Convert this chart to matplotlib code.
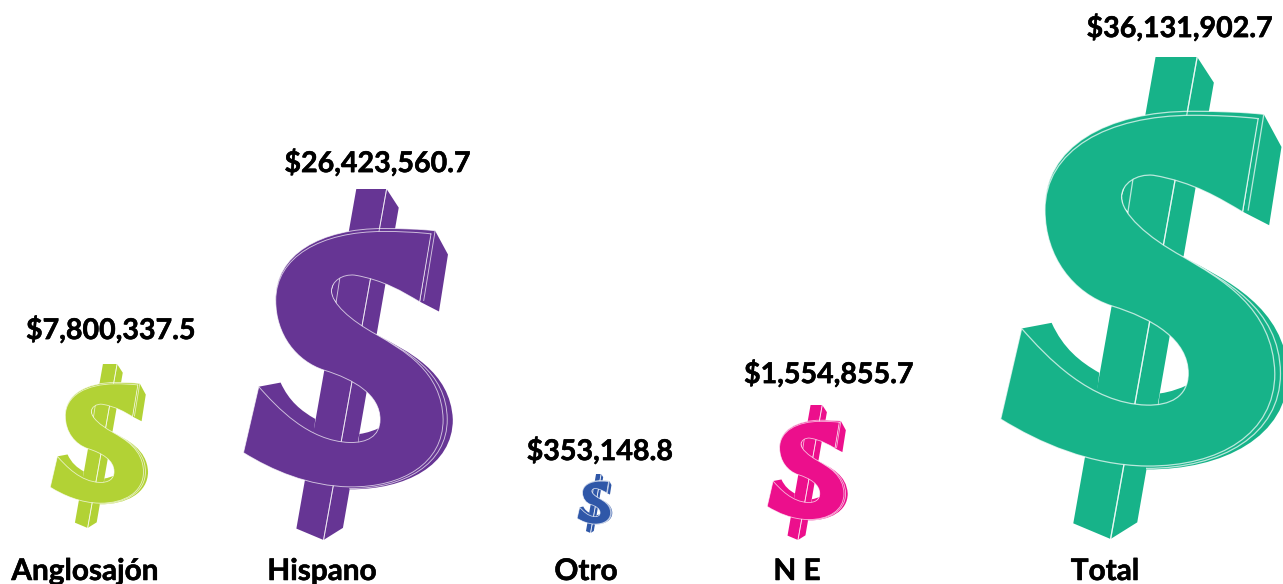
#!/usr/bin/env python3
# -*- coding: utf-8 -*-

import numpy as np
import matplotlib.pyplot as plt
import matplotlib.patheffects as pe
from matplotlib.patches import PathPatch
from matplotlib.path import Path

OUT_FILE = "out.png"
WIDTH, HEIGHT = 1283, 584

CATEGORIES = ["Anglosajón", "Hispano", "Otro", "N E", "Total"]
AMOUNTS = [7800337.5, 26423560.7, 353148.8, 1554855.7, 36131902.7]

# size and place of each dollar sign in pixels
SIGN_HEIGHT = [164, 351, 59, 135, 482]
SIGN_LEFT = [50, 243, 577, 767, 1000]
SIGN_BOTTOM = [528, 540, 533, 540, 539]
COLORS = ["#B2D235", "#663594", "#2F57A8", "#EC0F8C", "#17B389"]

AMOUNT_X = [111, 378, 600, 829, 1180]
AMOUNT_Y = [330, 163, 451, 374, 28]
LABEL_X = [85, 322, 586, 797, 1105]
LABEL_Y = 571

# sign outline: start point, then single points (line) or triples (bezier)
GLYPH_X0, GLYPH_Y1, GLYPH_H = 60, 1497, 1447

BAR = [(527, 50), (652, 50), (702, 127), (472, 1447), (392, 1497), (280, 1450), (527, 50)]
BAR_EDGE = [(652, 50), (392, 1497)]

FACE = [
    (835, 235), (788, 515),
    (720, 475), (640, 425), (520, 405),
    (470, 400), (425, 430), (425, 470),
    (425, 520), (500, 590), (610, 650),
    (720, 715), (880, 800), (885, 1000),
    (885, 1180), (720, 1280), (500, 1278),
    (330, 1275), (180, 1210), (62, 1137),
    (125, 865),
    (200, 950), (330, 1090), (500, 1095),
    (570, 1097), (625, 1070), (625, 1000),
    (625, 900), (520, 835), (395, 797),
    (280, 760), (195, 650), (195, 510),
    (195, 330), (380, 225), (640, 225),
    (700, 225), (780, 228), (835, 235),
]
SIDE_RIGHT = [(835, 235), (852, 222), (905, 320), (868, 555), (790, 515), (835, 235)]
SIDE_LEFT = [
    (125, 865), (215, 848),
    (250, 925), (300, 965), (358, 998),
    (350, 1070),
    (280, 1040), (190, 970), (125, 865),
]
SIDE_COUNTER = [
    (535, 1096), (540, 1060),
    (575, 1055), (600, 1045), (622, 1035),
    (600, 1080), (570, 1098), (535, 1096),
]
SIDE_UPPER = [(425, 470), (440, 420), (520, 400), (500, 570), (430, 500), (425, 470)]
SIDE_BULGE = [
    (610, 650),
    (740, 720), (915, 800), (925, 1000),
    (925, 1190), (730, 1290), (500, 1288),
    (500, 1270), (800, 1000), (610, 650),
]
RIM_TOP = [
    (195, 510),
    (190, 320), (380, 212), (640, 213),
    (720, 213), (790, 215), (852, 222),
    (790, 300), (300, 400), (195, 510),
]
RIM_LINE_TOP = [
    (195, 510),
    (190, 320), (380, 212), (640, 213),
    (720, 213), (790, 215), (852, 222),
    (805, 510),
]
RIM_LINE_BULGE = [
    (610, 650),
    (730, 720), (900, 800), (902, 1000),
    (902, 1185), (725, 1285), (500, 1285),
]
RIM_LINE_INNER = [
    (425, 470),
    (420, 525), (495, 600), (610, 660),
]
RIM_LINE_UPPER = [(459, 418), (443, 522)]

# which point indexes open a bezier in each outline
CURVE_STARTS = {
    id(FACE): {2, 5, 8, 11, 14, 17, 21, 24, 27, 30, 33, 36},
    id(SIDE_LEFT): {2, 6},
    id(SIDE_COUNTER): {2, 5},
    id(SIDE_BULGE): {1, 4},
    id(RIM_TOP): {1, 4},
    id(RIM_LINE_TOP): {1, 4},
    id(RIM_LINE_BULGE): {1, 4},
    id(RIM_LINE_INNER): {1},
}


def build_codes(points):
    starts = CURVE_STARTS.get(id(points), ())
    codes = [Path.MOVETO]
    i = 1
    while i < len(points):
        if i in starts:
            codes += [Path.CURVE4] * 3
            i += 3
        else:
            codes.append(Path.LINETO)
            i += 1
    return codes


def place(points, left, bottom, height):
    scale = height / GLYPH_H
    pts = np.array(points, dtype=float)
    pts[:, 0] = left + (pts[:, 0] - GLYPH_X0) * scale
    pts[:, 1] = bottom + (pts[:, 1] - GLYPH_Y1) * scale
    return pts


def add_shape(ax, points, left, bottom, height, **kwargs):
    path = Path(place(points, left, bottom, height), build_codes(points))
    ax.add_patch(PathPatch(path, **kwargs))


def draw_sign(ax, left, bottom, height, color):
    lw = max(0.6, height / 483 * 0.9)
    light = dict(fc="none", ec="white", lw=lw, alpha=0.7, capstyle="round")

    add_shape(ax, BAR, left, bottom, height, fc=color, ec="none")
    add_shape(ax, BAR_EDGE, left, bottom, height, **light)

    for side in [SIDE_RIGHT, SIDE_LEFT, SIDE_COUNTER, SIDE_UPPER, SIDE_BULGE, RIM_TOP]:
        add_shape(ax, side, left, bottom, height, fc=color, ec="none")

    add_shape(ax, BAR_EDGE, left, bottom, height, **light)
    for line in [RIM_LINE_TOP, RIM_LINE_BULGE, RIM_LINE_INNER, RIM_LINE_UPPER]:
        add_shape(ax, line, left, bottom, height, **light)

    add_shape(ax, FACE, left, bottom, height, fc=color, ec="none")
    add_shape(ax, FACE, left, bottom, height, **light)


def main():
    fig = plt.figure(figsize=(WIDTH / 100, HEIGHT / 100), dpi=100)
    ax = fig.add_axes([0, 0, 1, 1])
    ax.set_xlim(0, WIDTH)
    ax.set_ylim(HEIGHT, 0)
    ax.axis("off")

    # Lato bold comes out thinner than the original type, so thicken it a little
    heavier = [pe.withStroke(linewidth=0.4, foreground="black")]

    for i, name in enumerate(CATEGORIES):
        draw_sign(ax, SIGN_LEFT[i], SIGN_BOTTOM[i], SIGN_HEIGHT[i], COLORS[i])
        ax.text(AMOUNT_X[i], AMOUNT_Y[i], f"${AMOUNTS[i]:,.1f}", ha="center", va="center",
                family="Lato", weight="bold", fontsize=20.6, color="black", path_effects=heavier)
        ax.text(LABEL_X[i], LABEL_Y, name, ha="center", va="center",
                family="Lato", weight="bold", fontsize=21.4, color="black", path_effects=heavier)

    fig.savefig(OUT_FILE, dpi=100)
    plt.close(fig)


if __name__ == "__main__":
    main()
